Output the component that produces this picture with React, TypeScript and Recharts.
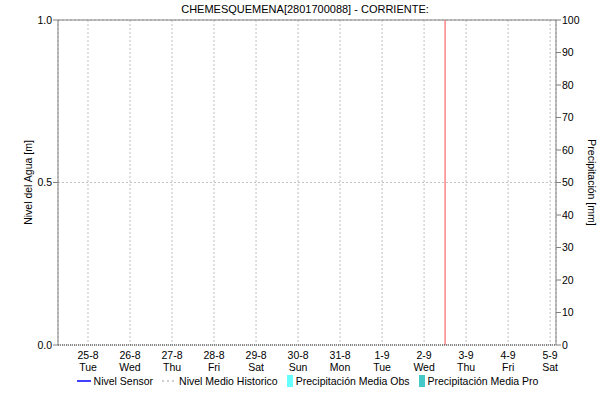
import React from "react";
import {
  ComposedChart,
  Line,
  Bar,
  XAxis,
  YAxis,
  CartesianGrid,
  ReferenceLine,
  Legend,
} from "recharts";

const dayLabels = ["25-8", "26-8", "27-8", "28-8", "29-8", "30-8", "31-8", "1-9", "2-9", "3-9", "4-9", "5-9"];
const weekDays = ["Tue", "Wed", "Thu", "Fri", "Sat", "Sun", "Mon", "Tue", "Wed", "Thu", "Fri", "Sat"];
const nivelSensor: (number | null)[] = [null, null, null, null, null, null, null, null, null, null, null, null];
const nivelMedio: (number | null)[] = [null, null, null, null, null, null, null, null, null, null, null, null];
const precipObs = [0, 0, 0, 0, 0, 0, 0, 0, 0, 0, 0, 0];
const precipPro = [0, 0, 0, 0, 0, 0, 0, 0, 0, 0, 0, 0];
const nivelTicks = [0, 0.5, 1];
const precipTicks = [0, 10, 20, 30, 40, 50, 60, 70, 80, 90, 100];
const xDomain: [number, number] = [-0.714, 11.14];
const nowMark = 8.5;

const data = dayLabels.map((d, i) => ({
  x: i,
  nivelSensor: nivelSensor[i],
  nivelMedio: nivelMedio[i],
  precipObs: precipObs[i],
  precipPro: precipPro[i],
}));

const FONT = "'Liberation Sans', Arial, sans-serif";

const legendItems = [
  { label: "Nivel Sensor", kind: "line", color: "#0000ff" },
  { label: "Nivel Medio Historico", kind: "dash", color: "#c0c0c0" },
  { label: "Precipitación Media Obs", kind: "box", color: "#66ffff" },
  { label: "Precipitación Media Pro", kind: "box", color: "#44c8c8" },
];

function DayTick(props: any) {
  const { x, y, payload } = props;
  const i = payload.value as number;
  return (
    <g transform={`translate(${x},${y})`}>
      <text x={0} y={0} dy={6} textAnchor="middle" fontSize={10.5} fill="#000" fontFamily={FONT}>
        {dayLabels[i]}
      </text>
      <text x={0} y={0} dy={18} textAnchor="middle" fontSize={10.5} fill="#000" fontFamily={FONT}>
        {weekDays[i]}
      </text>
    </g>
  );
}

function ChartLegend() {
  return (
    <div style={{ display: "flex", justifyContent: "center", alignItems: "center", paddingLeft: 14, fontFamily: FONT, fontSize: 10.5, color: "#000" }}>
      {legendItems.map((it) => (
        <span key={it.label} style={{ display: "flex", alignItems: "center", marginRight: 9 }}>
          {it.kind === "box" ? (
            <span style={{ display: "inline-block", width: 6, height: 12, background: it.color, marginRight: 3 }} />
          ) : (
            <svg width={14} height={4} style={{ marginRight: 3 }}>
              <line x1={0} y1={2} x2={14} y2={2} stroke={it.color} strokeWidth={1.5}
                strokeDasharray={it.kind === "dash" ? "2 3" : undefined} />
            </svg>
          )}
          {it.label}
        </span>
      ))}
    </div>
  );
}

export default function App() {
  return (
    <div style={{ position: "absolute", left: 0, top: 0, width: 610, height: 399, background: "#fff" }}>
      <div style={{ position: "absolute", top: 3, left: 0, width: 610, textAlign: "center", fontFamily: FONT, fontSize: 11, color: "#000" }}>
        CHEMESQUEMENA[2801700088] - CORRIENTE:
      </div>
      <ComposedChart width={610} height={399} data={data} margin={{ top: 20, right: 0, bottom: 24, left: 0 }}>
        <CartesianGrid yAxisId="nivel" stroke="#c0c0c0" strokeDasharray="2 2" />
        <XAxis
          dataKey="x"
          type="number"
          domain={xDomain}
          ticks={dayLabels.map((_, i) => i)}
          tick={<DayTick />}
          tickLine={false}
          axisLine={{ stroke: "#222", strokeDasharray: "1 1" }}
          height={30}
          allowDataOverflow
        />
        <YAxis
          yAxisId="nivel"
          type="number"
          domain={[0, 1]}
          allowDataOverflow
          ticks={nivelTicks}
          tickFormatter={(v: number) => v.toFixed(1)}
          width={58}
          tickSize={5}
          tickMargin={1}
          tick={{ fontSize: 10.5, fill: "#000", fontFamily: FONT }}
          axisLine={{ stroke: "#808080" }}
          tickLine={{ stroke: "#808080" }}
          label={{ value: "Nivel del Agua [m]", angle: -90, position: "insideLeft", offset: 28, style: { textAnchor: "middle", fontSize: 10.5, fill: "#000", fontFamily: FONT } }}
        />
        <YAxis
          yAxisId="precip"
          orientation="right"
          type="number"
          domain={[0, 100]}
          allowDataOverflow
          ticks={precipTicks}
          width={54}
          tickSize={5}
          tickMargin={1}
          tick={{ fontSize: 10.5, fill: "#000", fontFamily: FONT, textAnchor: "start" }}
          axisLine={{ stroke: "#808080" }}
          tickLine={{ stroke: "#808080" }}
          label={{ value: "Precipitación [mm]", angle: 90, position: "insideRight", offset: 18, style: { textAnchor: "middle", fontSize: 10.5, fill: "#000", fontFamily: FONT } }}
        />
        <ReferenceLine yAxisId="nivel" y={1} stroke="#808080" />
        <ReferenceLine yAxisId="nivel" x={nowMark} stroke="#ff4c4c" strokeWidth={1} />
        <Bar yAxisId="precip" dataKey="precipObs" fill="#66ffff" isAnimationActive={false} />
        <Bar yAxisId="precip" dataKey="precipPro" fill="#44c8c8" isAnimationActive={false} />
        <Line yAxisId="nivel" dataKey="nivelMedio" stroke="#c0c0c0" strokeDasharray="2 3" dot={false} isAnimationActive={false} />
        <Line yAxisId="nivel" dataKey="nivelSensor" stroke="#0000ff" dot={false} isAnimationActive={false} />
        <Legend
          layout="vertical"
          align="center"
          verticalAlign="middle"
          wrapperStyle={{ top: 375, left: 0, width: 610 }}
          content={() => <ChartLegend />}
        />
      </ComposedChart>
    </div>
  );
}
